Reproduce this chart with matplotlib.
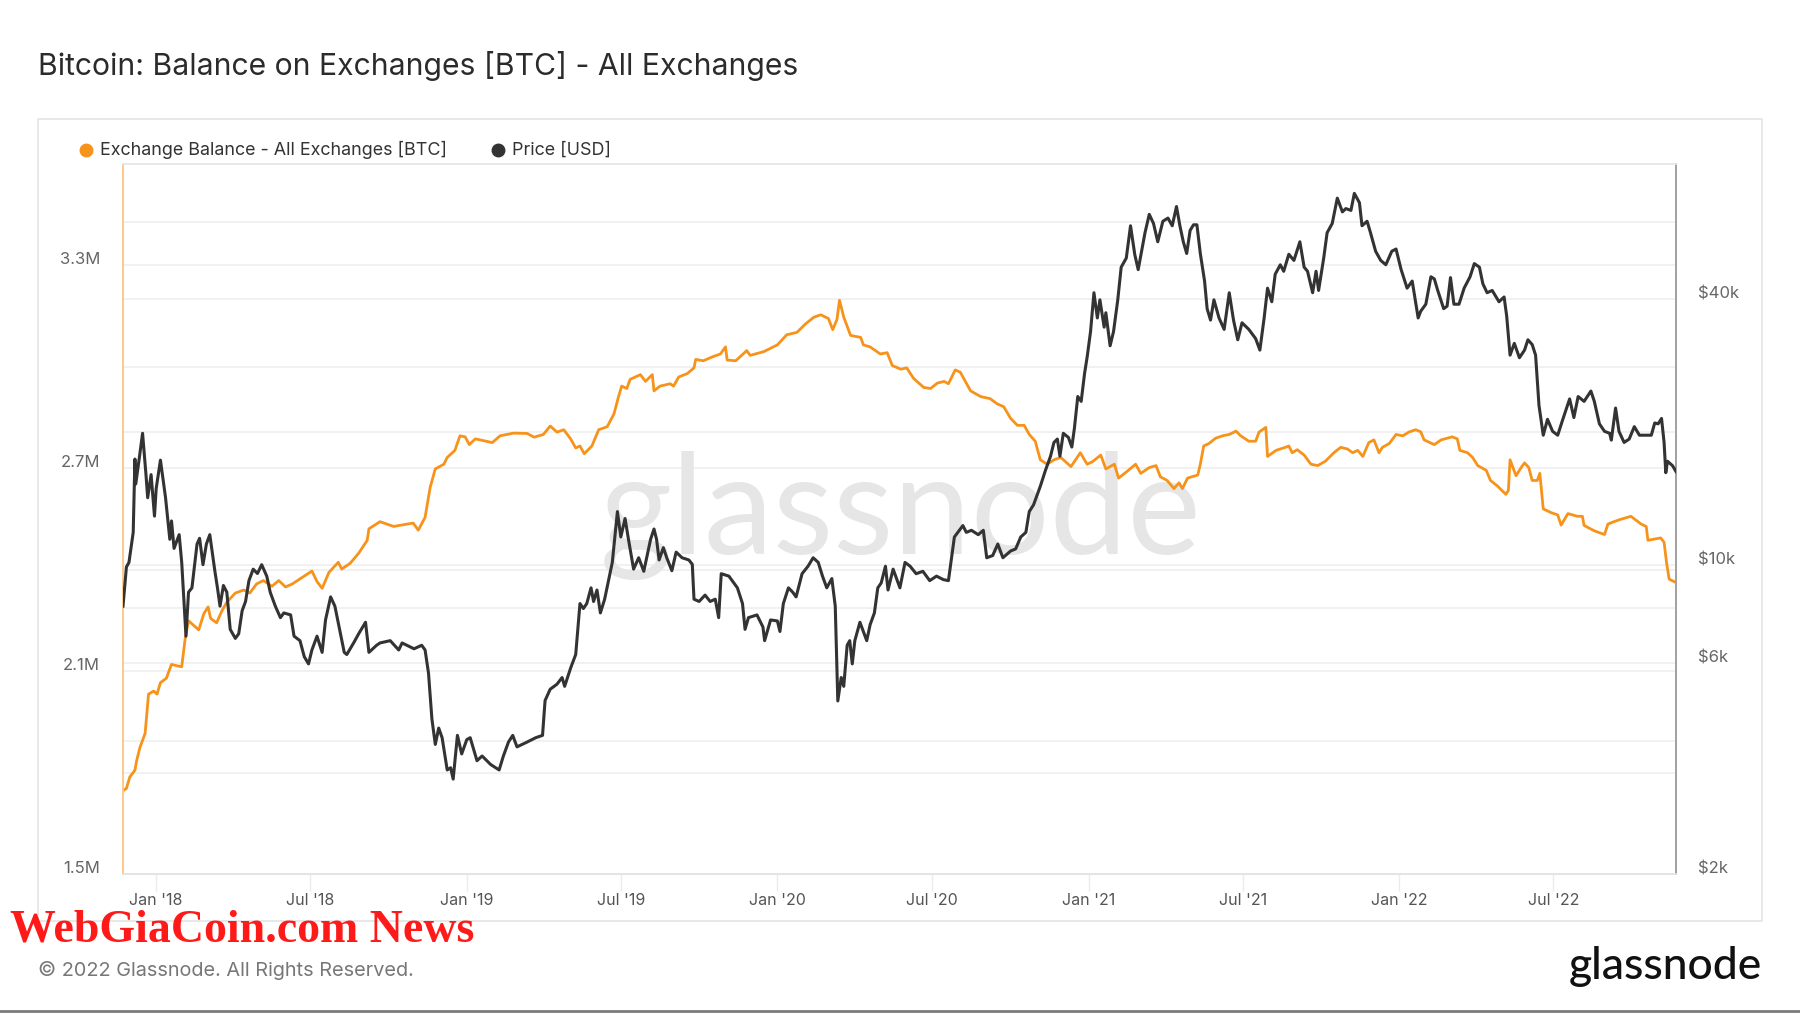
import matplotlib
matplotlib.use("Agg")
import matplotlib.pyplot as plt
from matplotlib.transforms import blended_transform_factory, ScaledTranslation
from matplotlib.patches import Rectangle
from matplotlib.lines import Line2D
import numpy as np
import pandas as pd

plt.rcParams['font.family'] = ['Inter', 'DejaVu Sans']

# ---------------- data ----------------
balance_dates = [
    "2017-11-23", "2017-11-27", "2017-12-01", "2017-12-07", "2017-12-09", "2017-12-13", "2017-12-19",
    "2017-12-23", "2017-12-29", "2018-01-02", "2018-01-06", "2018-01-13", "2018-01-16", "2018-01-19",
    "2018-01-25", "2018-01-31", "2018-02-04", "2018-02-08", "2018-02-20", "2018-02-26", "2018-03-03",
    "2018-03-06", "2018-03-13", "2018-03-19", "2018-03-25", "2018-04-04", "2018-04-14", "2018-04-21",
    "2018-04-29", "2018-05-07", "2018-05-17", "2018-05-25", "2018-06-02", "2018-06-10", "2018-06-21",
    "2018-07-03", "2018-07-09", "2018-07-15", "2018-07-23", "2018-08-03", "2018-08-07", "2018-08-17",
    "2018-08-27", "2018-09-06", "2018-09-08", "2018-09-21", "2018-10-07", "2018-10-30", "2018-11-05",
    "2018-11-13", "2018-11-19", "2018-11-25", "2018-12-05", "2018-12-09", "2018-12-18", "2018-12-24",
    "2018-12-30", "2019-01-04", "2019-01-11", "2019-01-31", "2019-02-09", "2019-02-25", "2019-03-13",
    "2019-03-21", "2019-04-01", "2019-04-09", "2019-04-17", "2019-04-25", "2019-05-03", "2019-05-09",
    "2019-05-14", "2019-05-19", "2019-05-28", "2019-06-05", "2019-06-15", "2019-06-23", "2019-06-28",
    "2019-07-02", "2019-07-08", "2019-07-12", "2019-07-24", "2019-07-30", "2019-08-07", "2019-08-09",
    "2019-08-16", "2019-08-28", "2019-09-01", "2019-09-07", "2019-09-17", "2019-09-25", "2019-09-27",
    "2019-10-06", "2019-10-16", "2019-10-26", "2019-11-01", "2019-11-03", "2019-11-13", "2019-11-26",
    "2019-11-30", "2019-12-16", "2020-01-01", "2020-01-12", "2020-01-24", "2020-02-03", "2020-02-13",
    "2020-02-21", "2020-03-01", "2020-03-06", "2020-03-11", "2020-03-14", "2020-03-19", "2020-03-27",
    "2020-04-08", "2020-04-11", "2020-04-19", "2020-05-01", "2020-05-09", "2020-05-15", "2020-05-25",
    "2020-06-01", "2020-06-09", "2020-06-21", "2020-06-29", "2020-07-07", "2020-07-15", "2020-07-20",
    "2020-07-28", "2020-08-03", "2020-08-15", "2020-08-27", "2020-09-07", "2020-09-15", "2020-09-23",
    "2020-10-01", "2020-10-09", "2020-10-17", "2020-10-23", "2020-10-30", "2020-11-05", "2020-11-13",
    "2020-11-21", "2020-11-29", "2020-12-11", "2020-12-22", "2020-12-30", "2021-01-05", "2021-01-15",
    "2021-01-21", "2021-01-31", "2021-02-05", "2021-02-15", "2021-02-25", "2021-03-03", "2021-03-13",
    "2021-03-21", "2021-03-26", "2021-04-03", "2021-04-11", "2021-04-17", "2021-04-21", "2021-04-27",
    "2021-05-09", "2021-05-12", "2021-05-16", "2021-05-22", "2021-05-30", "2021-06-07", "2021-06-15",
    "2021-06-23", "2021-06-28", "2021-07-08", "2021-07-16", "2021-07-20", "2021-07-28", "2021-07-30",
    "2021-08-09", "2021-08-20", "2021-08-24", "2021-08-28", "2021-09-03", "2021-09-11", "2021-09-19",
    "2021-09-27", "2021-10-06", "2021-10-16", "2021-10-24", "2021-11-01", "2021-11-07", "2021-11-13",
    "2021-11-19", "2021-11-26", "2021-12-02", "2021-12-08", "2021-12-12", "2021-12-20", "2021-12-28",
    "2022-01-05", "2022-01-12", "2022-01-20", "2022-01-26", "2022-01-30", "2022-02-11", "2022-02-19",
    "2022-03-04", "2022-03-10", "2022-03-13", "2022-03-22", "2022-03-28", "2022-04-03", "2022-04-13",
    "2022-04-18", "2022-04-26", "2022-05-06", "2022-05-09", "2022-05-11", "2022-05-18", "2022-05-24",
    "2022-05-28", "2022-06-02", "2022-06-06", "2022-06-12", "2022-06-15", "2022-06-19", "2022-06-28",
    "2022-07-06", "2022-07-10", "2022-07-18", "2022-07-29", "2022-08-04", "2022-08-06", "2022-08-18",
    "2022-08-30", "2022-09-03", "2022-09-10", "2022-09-18", "2022-09-30", "2022-10-12", "2022-10-18",
    "2022-10-20", "2022-11-04", "2022-11-08", "2022-11-11", "2022-11-14", "2022-11-22",
]
balance_mbtc = [
    1.746, 1.753, 1.787, 1.807, 1.835, 1.875, 1.916,
    2.032, 2.041, 2.032, 2.066, 2.079, 2.100, 2.120,
    2.116, 2.113, 2.195, 2.249, 2.222, 2.270, 2.290,
    2.256, 2.243, 2.277, 2.304, 2.331, 2.340, 2.331,
    2.358, 2.368, 2.351, 2.368, 2.349, 2.358, 2.376,
    2.396, 2.365, 2.345, 2.392, 2.422, 2.402, 2.419,
    2.449, 2.487, 2.521, 2.542, 2.528, 2.538, 2.517,
    2.555, 2.644, 2.698, 2.712, 2.732, 2.753, 2.796,
    2.793, 2.770, 2.787, 2.776, 2.796, 2.804, 2.803,
    2.792, 2.800, 2.825, 2.807, 2.814, 2.787, 2.760,
    2.766, 2.743, 2.766, 2.814, 2.823, 2.861, 2.909,
    2.943, 2.936, 2.963, 2.977, 2.957, 2.977, 2.929,
    2.943, 2.950, 2.943, 2.970, 2.980, 2.997, 3.022,
    3.018, 3.029, 3.038, 3.059, 3.020, 3.018, 3.048,
    3.034, 3.045, 3.065, 3.095, 3.102, 3.127, 3.147,
    3.154, 3.143, 3.110, 3.140, 3.197, 3.147, 3.093,
    3.087, 3.065, 3.059, 3.038, 3.042, 3.004, 2.993,
    2.997, 2.966, 2.939, 2.936, 2.952, 2.957, 2.950,
    2.991, 2.984, 2.929, 2.912, 2.906, 2.891, 2.882,
    2.848, 2.827, 2.827, 2.800, 2.780, 2.725, 2.712,
    2.725, 2.732, 2.705, 2.746, 2.712, 2.719, 2.739,
    2.698, 2.712, 2.671, 2.691, 2.712, 2.685, 2.702,
    2.708, 2.675, 2.664, 2.640, 2.657, 2.640, 2.671,
    2.680, 2.712, 2.766, 2.773, 2.789, 2.796, 2.800,
    2.810, 2.797, 2.780, 2.780, 2.807, 2.821, 2.735,
    2.753, 2.762, 2.766, 2.746, 2.755, 2.739, 2.712,
    2.708, 2.721, 2.746, 2.762, 2.757, 2.746, 2.753,
    2.735, 2.776, 2.784, 2.746, 2.762, 2.773, 2.800,
    2.796, 2.807, 2.814, 2.808, 2.784, 2.770, 2.784,
    2.793, 2.787, 2.753, 2.746, 2.732, 2.708, 2.694,
    2.664, 2.648, 2.623, 2.634, 2.725, 2.678, 2.702,
    2.716, 2.702, 2.664, 2.664, 2.685, 2.580, 2.569,
    2.562, 2.532, 2.566, 2.558, 2.558, 2.531, 2.515,
    2.504, 2.535, 2.542, 2.549, 2.558, 2.535, 2.528,
    2.487, 2.494, 2.481, 2.419, 2.372, 2.362,
]

price_dates = [
    "2017-11-23", "2017-11-27", "2017-11-30", "2017-12-05", "2017-12-07", "2017-12-08", "2017-12-12",
    "2017-12-16", "2017-12-20", "2017-12-22", "2017-12-26", "2017-12-30", "2018-01-01", "2018-01-06",
    "2018-01-12", "2018-01-17", "2018-01-19", "2018-01-22", "2018-01-28", "2018-01-31", "2018-02-05",
    "2018-02-08", "2018-02-12", "2018-02-18", "2018-02-21", "2018-02-25", "2018-03-01", "2018-03-05",
    "2018-03-11", "2018-03-14", "2018-03-17", "2018-03-21", "2018-03-25", "2018-03-29", "2018-04-04",
    "2018-04-08", "2018-04-12", "2018-04-16", "2018-04-20", "2018-04-25", "2018-04-30", "2018-05-05",
    "2018-05-11", "2018-05-15", "2018-05-21", "2018-05-27", "2018-05-31", "2018-06-08", "2018-06-12",
    "2018-06-19", "2018-06-24", "2018-06-29", "2018-07-03", "2018-07-09", "2018-07-15", "2018-07-19",
    "2018-07-25", "2018-07-30", "2018-08-05", "2018-08-10", "2018-08-13", "2018-08-21", "2018-08-27",
    "2018-09-04", "2018-09-08", "2018-09-17", "2018-09-21", "2018-10-03", "2018-10-13", "2018-10-17",
    "2018-10-31", "2018-11-09", "2018-11-13", "2018-11-17", "2018-11-21", "2018-11-25", "2018-11-29",
    "2018-12-03", "2018-12-09", "2018-12-13", "2018-12-16", "2018-12-21", "2018-12-26", "2019-01-01",
    "2019-01-05", "2019-01-13", "2019-01-19", "2019-01-29", "2019-02-08", "2019-02-13", "2019-02-19",
    "2019-02-24", "2019-03-01", "2019-03-13", "2019-03-23", "2019-03-31", "2019-04-03", "2019-04-09",
    "2019-04-17", "2019-04-23", "2019-04-26", "2019-05-03", "2019-05-09", "2019-05-14", "2019-05-18",
    "2019-05-22", "2019-05-27", "2019-05-30", "2019-06-03", "2019-06-07", "2019-06-12", "2019-06-17",
    "2019-06-21", "2019-06-27", "2019-07-01", "2019-07-06", "2019-07-10", "2019-07-16", "2019-07-22",
    "2019-07-28", "2019-08-05", "2019-08-09", "2019-08-12", "2019-08-15", "2019-08-20", "2019-08-24",
    "2019-08-30", "2019-09-04", "2019-09-11", "2019-09-19", "2019-09-23", "2019-09-25", "2019-10-01",
    "2019-10-08", "2019-10-14", "2019-10-20", "2019-10-24", "2019-10-27", "2019-11-05", "2019-11-15",
    "2019-11-21", "2019-11-24", "2019-11-28", "2019-12-08", "2019-12-15", "2019-12-17", "2019-12-24",
    "2020-01-01", "2020-01-04", "2020-01-08", "2020-01-14", "2020-01-19", "2020-01-23", "2020-01-30",
    "2020-02-06", "2020-02-12", "2020-02-18", "2020-02-23", "2020-02-28", "2020-03-05", "2020-03-09",
    "2020-03-12", "2020-03-16", "2020-03-19", "2020-03-23", "2020-03-26", "2020-03-29", "2020-04-01",
    "2020-04-07", "2020-04-15", "2020-04-19", "2020-04-24", "2020-04-28", "2020-05-02", "2020-05-07",
    "2020-05-10", "2020-05-16", "2020-05-22", "2020-05-24", "2020-05-30", "2020-06-05", "2020-06-12",
    "2020-06-20", "2020-06-28", "2020-07-06", "2020-07-14", "2020-07-20", "2020-07-27", "2020-07-31",
    "2020-08-06", "2020-08-10", "2020-08-16", "2020-08-24", "2020-08-30", "2020-09-03", "2020-09-10",
    "2020-09-16", "2020-09-22", "2020-10-01", "2020-10-07", "2020-10-13", "2020-10-19", "2020-10-23",
    "2020-10-28", "2020-11-05", "2020-11-11", "2020-11-17", "2020-11-21", "2020-11-25", "2020-11-28",
    "2020-12-02", "2020-12-08", "2020-12-12", "2020-12-15", "2020-12-19", "2020-12-23", "2020-12-27",
    "2020-12-30", "2021-01-03", "2021-01-07", "2021-01-11", "2021-01-14", "2021-01-19", "2021-01-21",
    "2021-01-26", "2021-01-30", "2021-02-04", "2021-02-08", "2021-02-14", "2021-02-19", "2021-02-24",
    "2021-02-28", "2021-03-04", "2021-03-08", "2021-03-13", "2021-03-18", "2021-03-23", "2021-03-29",
    "2021-04-04", "2021-04-09", "2021-04-14", "2021-04-18", "2021-04-22", "2021-04-26", "2021-04-30",
    "2021-05-04", "2021-05-08", "2021-05-12", "2021-05-17", "2021-05-20", "2021-05-24", "2021-05-28",
    "2021-06-03", "2021-06-09", "2021-06-15", "2021-06-20", "2021-06-25", "2021-06-30", "2021-07-08",
    "2021-07-16", "2021-07-21", "2021-07-26", "2021-07-30", "2021-08-04", "2021-08-08", "2021-08-14",
    "2021-08-18", "2021-08-24", "2021-08-30", "2021-09-06", "2021-09-11", "2021-09-15", "2021-09-21",
    "2021-09-25", "2021-09-28", "2021-10-04", "2021-10-08", "2021-10-14", "2021-10-20", "2021-10-26",
    "2021-10-30", "2021-11-05", "2021-11-09", "2021-11-15", "2021-11-18", "2021-11-24", "2021-11-28",
    "2021-12-04", "2021-12-10", "2021-12-16", "2021-12-23", "2021-12-28", "2022-01-03", "2022-01-10",
    "2022-01-16", "2022-01-23", "2022-01-26", "2022-02-01", "2022-02-07", "2022-02-11", "2022-02-15",
    "2022-02-22", "2022-02-26", "2022-03-02", "2022-03-06", "2022-03-12", "2022-03-18", "2022-03-25",
    "2022-03-30", "2022-04-05", "2022-04-09", "2022-04-14", "2022-04-20", "2022-04-28", "2022-05-04",
    "2022-05-07", "2022-05-11", "2022-05-16", "2022-05-22", "2022-05-28", "2022-06-01", "2022-06-06",
    "2022-06-10", "2022-06-14", "2022-06-19", "2022-06-24", "2022-06-30", "2022-07-06", "2022-07-12",
    "2022-07-20", "2022-07-25", "2022-07-30", "2022-08-06", "2022-08-14", "2022-08-18", "2022-08-24",
    "2022-08-30", "2022-09-05", "2022-09-07", "2022-09-12", "2022-09-16", "2022-09-22", "2022-09-28",
    "2022-10-04", "2022-10-10", "2022-10-18", "2022-10-24", "2022-10-28", "2022-11-01", "2022-11-05",
    "2022-11-08", "2022-11-10", "2022-11-12", "2022-11-18", "2022-11-22",
]
price_usd = [
    8080, 9910, 10150, 11870, 17400, 15280, 17400,
    19900, 16040, 14220, 16040, 12920, 14920, 17300,
    14220, 11450, 12600, 10920, 11730, 10150, 6910,
    8690, 8890, 11170, 11510, 10030, 11170, 11730,
    9690, 8890, 8080, 9000, 8690, 7160, 6830,
    7000, 7890, 8280, 9230, 9800, 9580, 10030,
    9440, 8690, 8080, 7610, 7800, 7720, 6910,
    6750, 6210, 5980, 6430, 6910, 6350, 7520,
    8480, 8080, 7080, 6350, 6280, 6670, 7000,
    7430, 6350, 6590, 6670, 6750, 6430, 6670,
    6470, 6590, 6430, 5700, 4490, 3930, 4280,
    4070, 3440, 3480, 3280, 4120, 3740, 4030,
    4070, 3610, 3700, 3540, 3440, 3700, 3980,
    4120, 3880, 3980, 4070, 4120, 4940, 5240,
    5380, 5570, 5320, 5850, 6280, 8190, 7980,
    8190, 8890, 8280, 8790, 7800, 8380, 9330,
    10150, 13230, 11590, 12760, 11450, 9800, 10400,
    9690, 11450, 12080, 11450, 10280, 10960, 10400,
    9720, 10710, 10400, 10280, 10050, 8380, 8280,
    8560, 8280, 8380, 7610, 9570, 9450, 8890,
    8190, 7160, 7610, 7720, 7250, 6750, 7520,
    7480, 7080, 8190, 8890, 8690, 8480, 9570,
    9950, 10400, 10150, 9450, 8890, 9330, 8080,
    4930, 5570, 5320, 6590, 6750, 5980, 6750,
    7430, 6750, 7340, 7800, 8890, 9120, 9950,
    8790, 9800, 9120, 8890, 10150, 9950, 9570,
    9690, 9230, 9450, 9280, 9230, 11590, 11870,
    12300, 11870, 12000, 11730, 12000, 10400, 10520,
    11170, 10400, 10770, 10890, 11590, 11870, 13230,
    13700, 15100, 16400, 17660, 18970, 19310, 17660,
    19900, 19470, 18520, 20400, 24100, 23500, 27200,
    29600, 33800, 41400, 36300, 39900, 34600, 37300,
    31400, 33800, 39900, 47300, 49600, 58700, 50500,
    46700, 51400, 56600, 62300, 59400, 54000, 60100,
    61100, 58700, 64900, 58700, 54000, 50800, 57300,
    59000, 59000, 50800, 44000, 38100, 35900, 39900,
    36300, 34200, 41400, 35900, 32400, 35400, 34200,
    32600, 30700, 36300, 42400, 39500, 45600, 47900,
    46300, 50600, 49000, 54000, 47300, 46300, 41400,
    46300, 41900, 49600, 56600, 59400, 67800, 63100,
    64200, 63600, 69500, 66200, 58700, 60100, 56600,
    51400, 49000, 47900, 51400, 52000, 46700, 42400,
    44000, 36300, 37600, 39000, 45000, 44500, 41900,
    38100, 38600, 44800, 39000, 39000, 42400, 45000,
    48200, 47300, 43400, 41400, 41900, 39500, 40500,
    36700, 29900, 31800, 29500, 30700, 32400, 31600,
    29900, 23000, 19700, 21400, 20100, 19700, 21400,
    23800, 21600, 24100, 23500, 24800, 23500, 20900,
    20100, 19900, 19200, 22700, 20100, 18970, 19310,
    20600, 19700, 19700, 19700, 21000, 20900, 21500,
    18970, 16200, 17200, 16800, 16300,
]

balance_ticks = [1.5, 2.1, 2.7, 3.3]
balance_grid = [1.8, 2.1, 2.4, 2.7, 3.0, 3.3]
price_ticks = [2000, 6000, 10000, 40000]
price_tick_labels = ["$2k", "$6k", "$10k", "$40k"]
price_grid = [4000, 6000, 8000, 10000, 20000, 40000, 60000]
x_tick_dates = ["2018-01-01", "2018-07-01", "2019-01-01", "2019-07-01", "2020-01-01",
                "2020-07-01", "2021-01-01", "2021-07-01", "2022-01-01", "2022-07-01"]
x_tick_labels = ["Jan '18", "Jul '18", "Jan '19", "Jul '19", "Jan '20",
                 "Jul '20", "Jan '21", "Jul '21", "Jan '22", "Jul '22"]

title = "Bitcoin: Balance on Exchanges [BTC] - All Exchanges"
legend_labels = ["Exchange Balance - All Exchanges [BTC]", "Price [USD]"]

ORANGE = "#f7931a"
DARK = "#333333"
GRID = "#efefef"

# ---------------- figure ----------------
W, H = 1800, 1013
fig = plt.figure(figsize=(W / 100, H / 100), dpi=100)
fig.patch.set_facecolor("white")

def fx(px):
    return px / W

def fy(py):
    return 1 - py / H

# outer panel
fig.add_artist(Rectangle((fx(38), fy(921)), fx(1762) - fx(38), fy(119) - fy(921),
                         transform=fig.transFigure, facecolor="white",
                         edgecolor="#e4e4e4", lw=1.2, zorder=0))
# bottom border line of the image
fig.add_artist(Line2D([0, 1], [fy(1011), fy(1011)], transform=fig.transFigure,
                      color="#7a7a7a", lw=2))

ax_l, ax_b, ax_r, ax_t = 123, 874, 1676, 164
ax = fig.add_axes([fx(ax_l), fy(ax_b), fx(ax_r) - fx(ax_l), fy(ax_t) - fy(ax_b)])
ax2 = ax.twinx()

bd = pd.to_datetime(balance_dates)
pdts = pd.to_datetime(price_dates)

ymin_l, ymax_l = 1.5, 3.6
ymin_r, ymax_r = 2000, 81000
ax.set_ylim(ymin_l, ymax_l)
ax2.set_yscale("log")
ax2.set_ylim(ymin_r, ymax_r)
xmin, xmax = pd.Timestamp("2017-11-23"), pd.Timestamp("2022-11-22")
ax.set_xlim(xmin, xmax)

# gridlines (drawn on the bottom axes so that they stay behind both lines)
for v in balance_grid:
    ax.axhline(v, color=GRID, lw=1.2, zorder=0.3)
for v in price_grid:
    frac = (np.log10(v) - np.log10(ymin_r)) / (np.log10(ymax_r) - np.log10(ymin_r))
    ax.axhline(ymin_l + frac * (ymax_l - ymin_l), color=GRID, lw=1.2, zorder=0.3)

# watermark
ax.text(0.501, 0.505, "glassnode", transform=ax.transAxes, ha="center", va="center",
        fontsize=100, color="#e6e6e6", family=["Lato", "DejaVu Sans"], zorder=0.5)

ax.plot(bd, balance_mbtc, color=ORANGE, lw=2.0, zorder=2, solid_joinstyle="round")
ax2.plot(pdts, price_usd, color=DARK, lw=2.2, zorder=3, solid_joinstyle="round")

# spines
for a in (ax, ax2):
    a.spines["top"].set_color("#e8e8e8")
    a.spines["bottom"].set_color("#e4e4e4")
    a.spines["left"].set_color("#fcc98a")
    a.spines["right"].set_color("#a0a0a0")
    for s in a.spines.values():
        s.set_linewidth(1.2)

# y ticks: labels drawn as text, slightly above the gridline
ax.set_yticks([])
ax2.set_yticks([])
ax2.yaxis.set_minor_locator(matplotlib.ticker.NullLocator())
off_l = ScaledTranslation(-23 / 100, 5.5 / 100, fig.dpi_scale_trans)
off_r = ScaledTranslation(22 / 100, 5.5 / 100, fig.dpi_scale_trans)
tr_l = blended_transform_factory(ax.transAxes, ax.transData) + off_l
tr_r = blended_transform_factory(ax2.transAxes, ax2.transData) + off_r
for v in balance_ticks:
    ax.text(0, v, f"{v:.1f}M", transform=tr_l, ha="right", va="center",
            fontsize=12, color="#666666")
for v, lab in zip(price_ticks, price_tick_labels):
    ax2.text(1, v, lab, transform=tr_r, ha="left", va="center",
             fontsize=12, color="#666666")

# x ticks
ax.set_xticks(pd.to_datetime(x_tick_dates))
ax.set_xticklabels(x_tick_labels)
ax.tick_params(axis="x", direction="out", length=12, width=1, color="#ebebeb",
               pad=2, labelsize=11.5, labelcolor="#555555")
ax2.tick_params(axis="x", length=0)

# title & legend
fig.text(fx(38), fy(66), title, ha="left", va="center", fontsize=21.7, color="#2b2b2b")
leg_y = fy(150)
fig.add_artist(Line2D([fx(86)], [leg_y], marker="o", markersize=9, color=ORANGE,
                      transform=fig.transFigure, lw=0))
fig.text(fx(100), leg_y, legend_labels[0], ha="left", va="center", fontsize=12.9, color="#333333")
fig.add_artist(Line2D([fx(498)], [leg_y], marker="o", markersize=9, color=DARK,
                      transform=fig.transFigure, lw=0))
fig.text(fx(512), leg_y, legend_labels[1], ha="left", va="center", fontsize=12.9, color="#333333")

# footer
fig.text(fx(38), fy(970), "\u00a9 2022 Glassnode. All Rights Reserved.", ha="left", va="center",
         fontsize=14.3, color="#777777")
fig.text(fx(1762), fy(966), "glassnode", ha="right", va="center", fontsize=32,
         color="#111111", family=["Lato", "DejaVu Sans"], fontweight="medium")
fig.text(fx(10), fy(941), "WebGiaCoin.com News", ha="left", va="baseline", fontsize=33,
         color="#ff1a1a", family=["Liberation Serif", "DejaVu Serif"], fontweight="bold",
         zorder=10)

fig.savefig("out.png", dpi=100, facecolor="white")
